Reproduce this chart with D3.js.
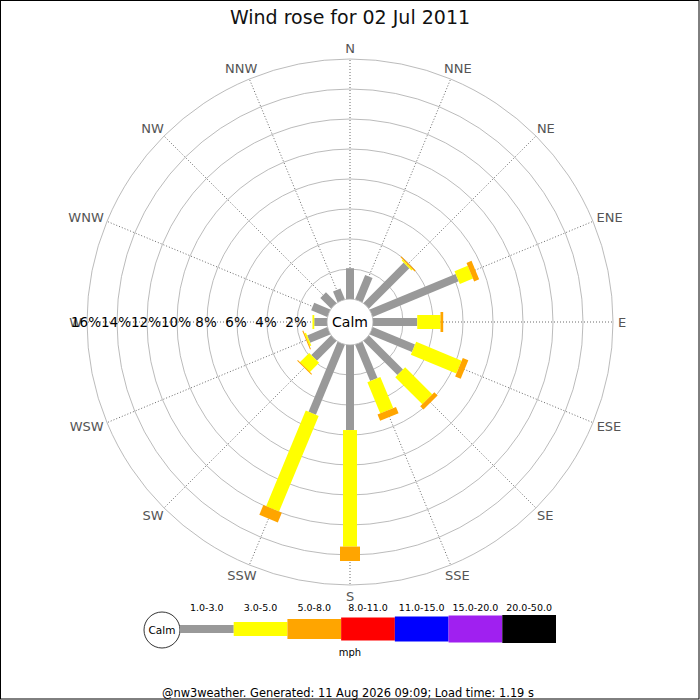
<!doctype html>
<html>
<head>
<meta charset="utf-8">
<style>
    body { margin: 0; }
    svg { font-family: "DejaVu Sans", sans-serif; }
</style>
<script src="https://d3js.org/d3.v7.min.js"></script>
</head>
<body>
<div id="rose"></div>
<script>

    // directions, clockwise from north
    var directions = ["N", "NNE", "NE", "ENE", "E", "ESE", "SE", "SSE",
                      "S", "SSW", "SW", "WSW", "W", "WNW", "NW", "NNW"];

    // speed bands (mph)
    var bands = ["1.0-3.0", "3.0-5.0", "5.0-8.0", "8.0-11.0", "11.0-15.0", "15.0-20.0", "20.0-50.0"];

    // % of time per direction for each band (only the first three occur)
    var band1to3 = [2.05, 1.75, 3.8, 6.2, 2.95, 3.05, 3.2, 2.62, 5.67, 5.05, 1.85, 1.45, 0.85, 1.16, 1.0, 0.78];
    var band3to5 = [0, 0, 0.1, 0.95, 1.55, 3.28, 2.55, 2.25, 7.77, 6.9, 0.88, 0.12, 0.12, 0, 0, 0];
    var band5to8 = [0, 0, 0.08, 0.36, 0.18, 0.4, 0.31, 0.45, 0.96, 0.7, 0.05, 0.06, 0, 0, 0, 0];

    // ring labels
    var ringTicks = [2, 4, 6, 8, 10, 12, 14, 16];

    var bandColors = ["#999999", "#ffff00", "#ffa500", "#ff0000", "#0000ff", "#a020f0", "#000000"];
    var bandWidths = [8, 14, 20, 23, 25, 27, 28];

    var canvasWidth = 700;
    var canvasHeight = 700;
    var cx = 350, cy = 322;
    var calmR = 23;

    var svg = d3.select("#rose").append("svg")
        .attr("width", canvasWidth)
        .attr("height", canvasHeight);

    svg.append("rect")
        .attr("x", 0.5).attr("y", 0.5)
        .attr("width", canvasWidth - 1.5).attr("height", canvasHeight - 1.5)
        .attr("fill", "white")
        .attr("stroke", "black");

    // title
    svg.append("text")
        .attr("x", 350)
        .attr("y", 24)
        .attr("text-anchor", "middle")
        .attr("font-size", "19px")
        .attr("fill", "#111")
        .text("Wind rose for 02 Jul 2011");

    var r = d3.scaleLinear().domain([0, 16]).range([calmR, 263]);
    var angle = d3.scaleLinear().domain([0, directions.length]).range([0, 360]);

    var g = svg.append("g").attr("transform", "translate(" + cx + "," + cy + ")");

    // rings
    g.selectAll(".ring")
        .data(ringTicks)
        .join("circle")
        .attr("class", "ring")
        .attr("r", d => r(d))
        .attr("fill", "none")
        .attr("stroke", "#aaa")
        .attr("stroke-width", 0.8);

    // spokes
    g.selectAll(".spoke")
        .data(directions)
        .join("line")
        .attr("class", "spoke")
        .attr("x1", 0).attr("y1", 0)
        .attr("x2", (d, i) => r(16) * Math.sin(angle(i) * Math.PI / 180))
        .attr("y2", (d, i) => -r(16) * Math.cos(angle(i) * Math.PI / 180))
        .attr("stroke", "#444")
        .attr("stroke-width", 0.8)
        .attr("stroke-dasharray", "1,2");

    // direction labels
    g.selectAll(".dir")
        .data(directions)
        .join("text")
        .attr("class", "dir")
        .attr("font-size", "13px")
        .attr("fill", "#555")
        .attr("text-anchor", "middle")
        .attr("dominant-baseline", "central")
        .text(d => d)
        .each(function(d, i) {
            var a = angle(i) * Math.PI / 180;
            var w = this.getComputedTextLength();
            d3.select(this)
                .attr("x", (r(16) + 3) * Math.sin(a) + (w / 2 + 2) * Math.sin(a))
                .attr("y", -(r(16) + 3) * Math.cos(a) - 8 * Math.cos(a));
        });

    // stacked bars
    var series = [band1to3, band3to5, band5to8];
    var segs = [];
    directions.forEach(function(d, i) {
        var start = 0;
        series.forEach(function(s, k) {
            if (s[i] > 0) {
                segs.push({dir: i, band: k, r0: start, r1: start + s[i]});
            }
            start += s[i];
        });
    });

    g.selectAll(".seg")
        .data(segs)
        .join("rect")
        .attr("class", "seg")
        .attr("x", d => -bandWidths[d.band] / 2)
        .attr("y", d => -r(d.r1))
        .attr("width", d => bandWidths[d.band])
        .attr("height", d => Math.max(r(d.r1) - r(d.r0), 1))
        .attr("fill", d => bandColors[d.band])
        .attr("transform", d => "rotate(" + angle(d.dir) + ")");

    // calm circle
    g.append("circle")
        .attr("r", calmR)
        .attr("fill", "white")
        .attr("stroke", "#aaa")
        .attr("stroke-width", 0.8);

    g.append("text")
        .attr("text-anchor", "middle")
        .attr("dominant-baseline", "central")
        .attr("font-size", "14px")
        .text("Calm");

    // ring percent labels along the west spoke
    g.selectAll(".pct")
        .data(ringTicks)
        .join("text")
        .attr("class", "pct")
        .attr("x", d => -r(d) - 1)
        .attr("y", 0)
        .attr("text-anchor", "middle")
        .attr("dominant-baseline", "central")
        .attr("font-size", "13.5px")
        .text(d => d + "%");

    // legend
    var lx = d3.scaleBand().domain(bands).range([180, 556]);
    var legendY = 629;

    svg.append("circle")
        .attr("cx", 162).attr("cy", legendY + 1)
        .attr("r", 18)
        .attr("fill", "white")
        .attr("stroke", "black")
        .attr("stroke-width", 0.8);

    svg.append("text")
        .attr("x", 162).attr("y", legendY + 1)
        .attr("text-anchor", "middle")
        .attr("dominant-baseline", "central")
        .attr("font-size", "10.5px")
        .text("Calm");

    svg.selectAll(".lkey")
        .data(bands)
        .join("rect")
        .attr("class", "lkey")
        .attr("x", d => lx(d))
        .attr("y", (d, i) => legendY - bandWidths[i] / 2)
        .attr("width", lx.bandwidth())
        .attr("height", (d, i) => bandWidths[i])
        .attr("fill", (d, i) => bandColors[i]);

    svg.selectAll(".llab")
        .data(bands)
        .join("text")
        .attr("class", "llab")
        .attr("x", d => lx(d) + lx.bandwidth() / 2)
        .attr("y", 611)
        .attr("text-anchor", "middle")
        .attr("font-size", "9.5px")
        .text(d => d);

    svg.append("text")
        .attr("x", 350).attr("y", 656)
        .attr("text-anchor", "middle")
        .attr("font-size", "10px")
        .text("mph");

    // footer
    svg.append("text")
        .attr("x", 348).attr("y", 697)
        .attr("text-anchor", "middle")
        .attr("font-size", "11.4px")
        .text("@nw3weather. Generated: 11 Aug 2026 09:09; Load time: 1.19 s");

</script>
</body>
</html>
